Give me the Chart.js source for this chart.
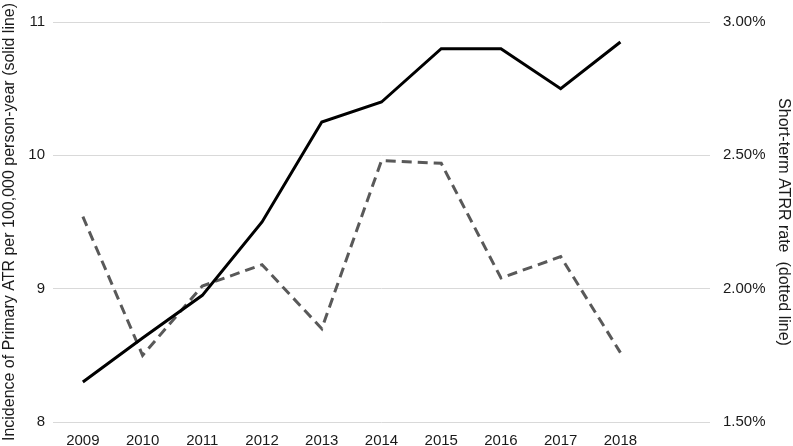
<!DOCTYPE html>
<html>
<head>
<meta charset="utf-8">
<script src="https://cdn.jsdelivr.net/npm/chart.js@4/dist/chart.umd.min.js"></script>
<style>
  html, body { margin: 0; padding: 0; background: #fff; }
  #wrap { width: 793px; height: 446px; position: relative; }
</style>
</head>
<body>
<div id="wrap"><canvas id="c"></canvas></div>
<script>
const years = ['2009','2010','2011','2012','2013','2014','2015','2016','2017','2018',''];
const incidence = [8.3, 8.63, 8.95, 9.5, 10.25, 10.4, 10.8, 10.8, 10.5, 10.85, null];
const atrrRate = [2.27, 1.75, 2.01, 2.09, 1.85, 2.48, 2.47, 2.04, 2.12, 1.76, null];
const leftTicks = [8, 9, 10, 11];
const rightTicks = [1.5, 2.0, 2.5, 3.0];
const leftTitle = 'Incidence of Primary ATR per 100,000 person-year (solid line)';
const rightTitle = 'Short-term ATRR rate  (dotted line)';

const FONT = 'Liberation Sans, Arial, sans-serif';
const TXT = '#1a1a1a';

new Chart(document.getElementById('c'), {
  type: 'line',
  data: {
    labels: years,
    datasets: [
      {
        label: 'Incidence',
        data: incidence,
        yAxisID: 'y',
        borderColor: '#000000',
        borderWidth: 3,
        pointRadius: 0,
        tension: 0,
        fill: false
      },
      {
        label: 'ATRR rate',
        data: atrrRate,
        yAxisID: 'y2',
        borderColor: '#595959',
        borderWidth: 3,
        borderDash: [10, 6],
        pointRadius: 0,
        tension: 0,
        fill: false
      }
    ]
  },
  options: {
    responsive: true,
    maintainAspectRatio: false,
    animation: false,
    layout: { padding: { top: 15, left: 0, right: 0, bottom: 0 } },
    plugins: { legend: { display: false }, tooltip: { enabled: false } },
    scales: {
      x: {
        type: 'category',
        offset: true,
        grid: { display: false, drawTicks: false },
        border: { display: false },
        ticks: { color: TXT, font: { family: FONT, size: 15 }, padding: 10, maxRotation: 0, autoSkip: false },
        afterFit: (s) => { s.height = 24; }
      },
      y: {
        position: 'left',
        min: 8, max: 11,
        afterBuildTicks: (s) => { s.ticks = leftTicks.map(v => ({ value: v })); },
        grid: { color: '#d9d9d9', lineWidth: 1, drawTicks: false },
        border: { display: false },
        ticks: { color: TXT, font: { family: FONT, size: 15 }, padding: 8 },
        title: { display: true, text: leftTitle, color: TXT, font: { family: FONT, size: 16 }, padding: 0 },
        afterFit: (s) => { s.width = 53; }
      },
      y2: {
        position: 'right',
        min: 1.5, max: 3.0,
        afterBuildTicks: (s) => { s.ticks = rightTicks.map(v => ({ value: v })); },
        grid: { display: false, drawTicks: false },
        border: { display: false },
        ticks: {
          color: TXT, font: { family: FONT, size: 15 }, padding: 13,
          callback: (v) => Number(v).toFixed(2) + '%'
        },
        title: { display: true, text: rightTitle, color: TXT, font: { family: FONT, size: 16 }, padding: 0 },
        afterFit: (s) => { s.width = 83; }
      }
    }
  }
});
</script>
</body>
</html>
